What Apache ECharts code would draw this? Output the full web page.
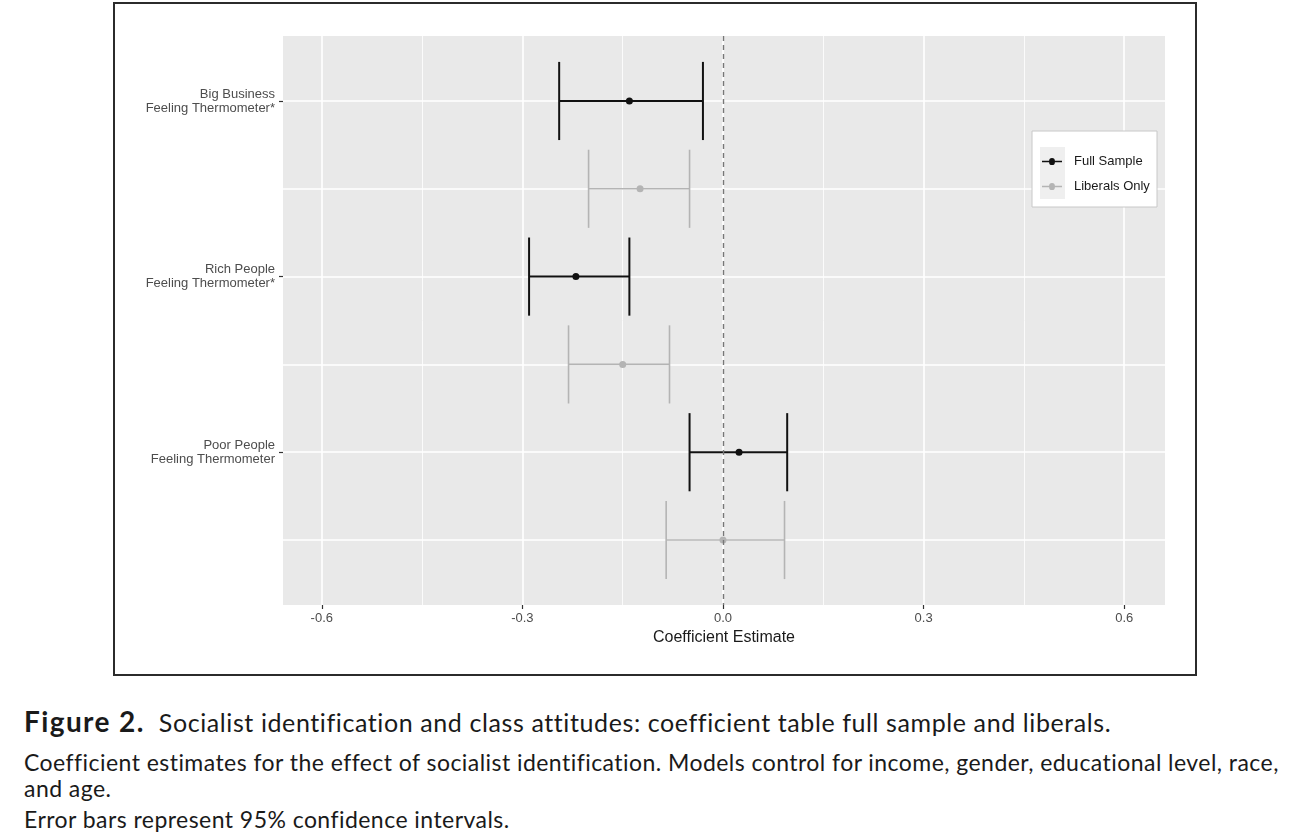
<!DOCTYPE html>
<html lang="en">
<head>
    <meta charset="UTF-8">
    <title>Socialist identification and class attitudes</title>
    <script src="https://cdn.jsdelivr.net/npm/echarts@6/dist/echarts.min.js"></script>
    <style>
        html, body { margin: 0; padding: 0; background: #fff; }
        #main { position: absolute; left: 0; top: 0; width: 1289px; height: 690px; }
        .caption { position: absolute; left: 24px; font-family: Lato, "Open Sans", sans-serif; font-size: 23px; letter-spacing: 0.45px;
                   line-height: 30px; color: #1a1a1a; white-space: nowrap; }
        .caption.head { font-size: 25px; letter-spacing: 0.6px; }
        .caption b { font-weight: 700; font-size: 28px; letter-spacing: 1.4px; }
    </style>
</head>
<body>
    <div id="main"></div>
    <div class="caption head" style="top:706px;"><b>Figure 2.</b>&nbsp; Socialist identification and class attitudes: coefficient table full sample and liberals.</div>
    <div class="caption" style="top:747px;">Coefficient estimates for the effect of socialist identification. Models control for income, gender, educational level, race,</div>
    <div class="caption" style="top:773px;">and age.</div>
    <div class="caption" style="top:804px;">Error bars represent 95% confidence intervals.</div>
    <script>
        // outcomes, top to bottom; each has a full-sample row and a liberals row under it
        var outcomes = ['Big Business\nFeeling Thermometer*', 'Rich People\nFeeling Thermometer*', 'Poor People\nFeeling Thermometer'];
        var fullEst = [-0.140, -0.220, 0.024];
        var fullLo  = [-0.245, -0.290, -0.050];
        var fullHi  = [-0.030, -0.140, 0.096];
        var libEst  = [-0.124, -0.150, 0.000];
        var libLo   = [-0.201, -0.231, -0.085];
        var libHi   = [-0.050, -0.080, 0.092];
        var xTicks  = [-0.6, -0.3, 0.0, 0.3, 0.6];
        var xMinor  = [-0.45, -0.15, 0.15, 0.45];

        var fullPts = [], fullBars = [], libPts = [], libBars = [], rows = [], labelRows = [];
        for (var i = 0; i < outcomes.length; i++) {
            fullPts.push([fullEst[i], 2 * i]);
            fullBars.push([2 * i, fullLo[i], fullHi[i]]);
            libPts.push([libEst[i], 2 * i + 1]);
            libBars.push([2 * i + 1, libLo[i], libHi[i]]);
            rows.push(2 * i, 2 * i + 1);
            labelRows.push(2 * i);
        }

        function errorBar(color, width) {
            return function (params, api) {
                var row = api.value(0);
                var a = api.coord([api.value(1), row]);
                var b = api.coord([api.value(2), row]);
                var half = api.size([0, 0.445])[1];
                var style = { stroke: color, lineWidth: width };
                return {
                    type: 'group',
                    children: [
                        { type: 'line', shape: { x1: a[0], y1: a[1], x2: b[0], y2: b[1] }, style: style },
                        { type: 'line', shape: { x1: a[0], y1: a[1] - half, x2: a[0], y2: a[1] + half }, style: style },
                        { type: 'line', shape: { x1: b[0], y1: b[1] - half, x2: b[0], y2: b[1] + half }, style: style }
                    ]
                };
            };
        }

        var keyIcon = 'path://M0,3.3H7.1A2.9,2.9 0 0 1 12.9,3.3H20V4.7H12.9A2.9,2.9 0 0 1 7.1,4.7H0Z';
        var myChart = echarts.init(document.getElementById('main'));
        var option = {
            animation: false,
            textStyle: { fontFamily: '"Liberation Sans", Arial, sans-serif' },
            grid: {
                left: 283, top: 36, width: 882, height: 569,
                show: true, backgroundColor: '#e9e9e9', borderWidth: 0
            },
            graphic: [
                { type: 'rect', shape: { x: 114, y: 3, width: 1082, height: 672 }, style: { fill: 'none', stroke: '#2b2b2b', lineWidth: 2 } },
                { type: 'rect', z: 2, shape: { x: 1032, y: 131, width: 125, height: 76 }, style: { fill: '#fff', stroke: '#c8c8c8', lineWidth: 1 } },
                { type: 'rect', z: 2, shape: { x: 1040, y: 147, width: 25, height: 52 }, style: { fill: '#efefef' } }
            ],
            legend: {
                data: ['Full Sample', 'Liberals Only'],
                orient: 'vertical',
                left: 1042, top: 155,
                padding: 0,
                itemWidth: 20, itemHeight: 8, itemGap: 12,
                icon: keyIcon,
                z: 10,
                textStyle: { fontSize: 13, color: '#1a1a1a', padding: [0, 0, 0, 7] }
            },
            xAxis: [{
                type: 'value', min: -0.658, max: 0.661,
                name: 'Coefficient Estimate', nameLocation: 'middle', nameGap: 23,
                nameTextStyle: { fontSize: 16, color: '#1a1a1a' },
                axisLine: { show: false, onZero: false },
                axisTick: { show: true, customValues: xTicks, length: 4, lineStyle: { color: '#333', width: 1.2 } },
                axisLabel: { customValues: xTicks, margin: 7, fontSize: 13, color: '#4d4d4d',
                    formatter: function (v) { return v.toFixed(1); } },
                splitLine: { show: true, lineStyle: { color: '#fff', width: 1.6 } }
            }, {
                type: 'value', min: -0.658, max: 0.661, position: 'bottom',
                axisLine: { show: false, onZero: false },
                axisTick: { show: false, customValues: xMinor },
                axisLabel: { show: false },
                splitLine: { show: true, lineStyle: { color: '#fff', width: 0.8 } }
            }],
            yAxis: [{
                type: 'value', inverse: true, min: -0.74, max: 5.74,
                axisLine: { show: false, onZero: false },
                axisTick: { show: true, customValues: labelRows, length: 4, lineStyle: { color: '#333', width: 1.2 } },
                axisLabel: { customValues: labelRows, margin: 8, fontSize: 13, color: '#4d4d4d', lineHeight: 14, align: 'right',
                    formatter: function (v) { return outcomes[Math.round(v) / 2]; } },
                splitLine: { show: false }
            }, {
                type: 'value', inverse: true, min: -0.74, max: 5.74, position: 'left',
                axisLine: { show: false, onZero: false },
                axisTick: { show: false, customValues: rows },
                axisLabel: { show: false },
                splitLine: { show: true, lineStyle: { color: '#fff', width: 1.6 } }
            }],
            series: [{
                name: 'Full Sample bars', type: 'custom', renderItem: errorBar('#111', 2),
                encode: { x: [1, 2], y: 0 }, data: fullBars, z: 3, silent: true
            }, {
                name: 'Liberals Only bars', type: 'custom', renderItem: errorBar('#b4b4b4', 1.6),
                encode: { x: [1, 2], y: 0 }, data: libBars, z: 3, silent: true
            }, {
                name: 'Full Sample', type: 'scatter', data: fullPts, symbolSize: 7, z: 4,
                itemStyle: { color: '#111', opacity: 1 }
            }, {
                name: 'Liberals Only', type: 'scatter', data: libPts, symbolSize: 7, z: 4,
                itemStyle: { color: '#b4b4b4', opacity: 1 },
                markLine: {
                    silent: true, symbol: 'none', label: { show: false },
                    lineStyle: { color: '#777', type: [5, 4], width: 1.4 },
                    data: [{ xAxis: 0 }]
                }
            }]
        };
        myChart.setOption(option);
    </script>
</body>
</html>
